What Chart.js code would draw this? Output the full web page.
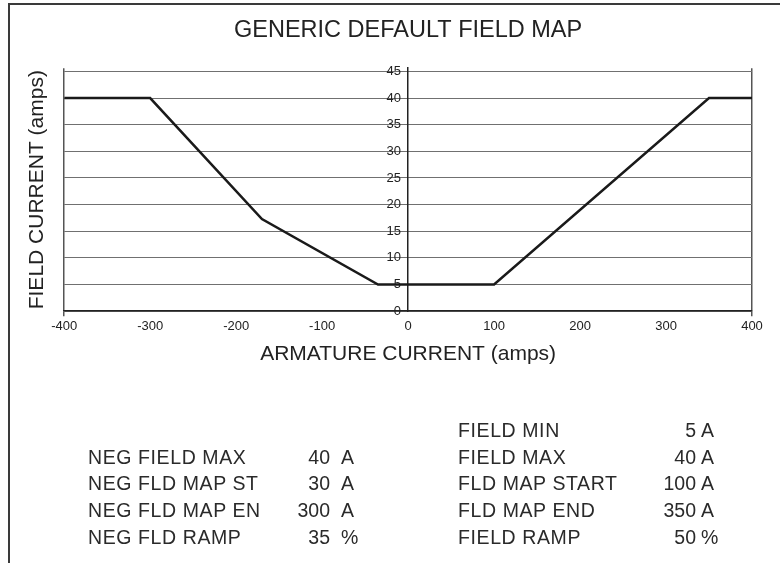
<!DOCTYPE html>
<html>
<head>
<meta charset="utf-8">
<script src="https://cdn.jsdelivr.net/npm/chart.js@4/dist/chart.umd.min.js"></script>
<style>
  html, body { margin: 0; padding: 0; background: #fff; }
  #wrap { position: relative; width: 780px; height: 563px; overflow: hidden; }
  #frame { position: absolute; left: 8px; top: 3px; width: 780px; height: 570px;
           border-top: 2px solid #3a3a3a; border-left: 2px solid #3a3a3a; }
  #chart { position: absolute; left: 0; top: 0; }
  .row { position: absolute; font-family: 'Liberation Sans', Arial, sans-serif;
         font-size: 19.5px; color: #2a2a2a; line-height: 22px; white-space: nowrap; }
  .row span { position: absolute; top: 0; }
  .lbl { letter-spacing: 0.6px; }
  .val { text-align: right; }
</style>
</head>
<body>
<div id="wrap">
  <div id="frame"></div>
  <canvas id="chart" width="780" height="563"></canvas>
  <div id="table"></div>
</div>
<script>
  // curve points (armature amps vs field amps)
  const armatureAmps = [-400, -300, -170, -35, 100, 350, 400];
  const fieldAmps = [40, 40, 17.3, 5, 5, 40, 40];

  // settings list under the chart
  const negLabels = ['NEG FIELD MAX', 'NEG FLD MAP ST', 'NEG FLD MAP EN', 'NEG FLD RAMP'];
  const negValues = ['40', '30', '300', '35'];
  const negUnits = ['A', 'A', 'A', '%'];
  const posLabels = ['FIELD MIN', 'FIELD MAX', 'FLD MAP START', 'FLD MAP END', 'FIELD RAMP'];
  const posValues = ['5', '40', '100', '350', '50'];
  const posUnits = ['A', 'A', 'A', 'A', '%'];

  const fontFamily = "'Liberation Sans', Arial, sans-serif";

  // tabla de parametros
  const table = document.getElementById('table');
  function addRow(top, left, label, value, unit, valRight, unitLeft) {
    const row = document.createElement('div');
    row.className = 'row';
    row.style.top = top + 'px';
    row.style.left = left + 'px';
    row.innerHTML = '<span class="lbl" style="left:0">' + label + '</span>' +
      '<span class="val" style="right:' + (-valRight) + 'px;width:60px">' + value + '</span>' +
      '<span style="left:' + unitLeft + 'px">' + unit + '</span>';
    table.appendChild(row);
  }
  const rowTop = 419, rowStep = 26.7;
  posLabels.forEach((l, i) => addRow(rowTop + i * rowStep, 458, l, posValues[i], posUnits[i], 238, 243));
  negLabels.forEach((l, i) => addRow(rowTop + (i + 1) * rowStep, 88, l, negValues[i], negUnits[i], 242, 253));

  new Chart(document.getElementById('chart'), {
    type: 'line',
    data: {
      datasets: [{
        label: 'Field map',
        data: armatureAmps.map((a, i) => ({ x: a, y: fieldAmps[i] })),
        borderColor: '#1a1a1a',
        borderWidth: 2.5,
        pointRadius: 0,
        tension: 0,
        fill: false
      }]
    },
    options: {
      responsive: false,
      animation: false,
      layout: { padding: { left: 0, right: 28, top: 0, bottom: 196 } },
      plugins: {
        legend: { display: false },
        tooltip: { enabled: false },
        title: {
          display: true,
          text: 'GENERIC DEFAULT FIELD MAP',
          fullSize: false,
          color: '#222',
          font: { family: fontFamily, size: 23.5, weight: 'normal' },
          padding: { top: 16, bottom: 24 }
        }
      },
      scales: {
        x: {
          type: 'linear',
          position: 'bottom',
          min: -400,
          max: 400,
          ticks: { stepSize: 100, color: '#222', padding: 2, font: { family: fontFamily, size: 13 } },
          grid: {
            color: ctx => (Math.abs(ctx.tick.value) === 400 ? '#555' : 'rgba(0,0,0,0)'),
            lineWidth: 1.5,
            tickLength: 5
          },
          border: { display: true, color: '#222', width: 1.5 },
          title: {
            display: true,
            text: 'ARMATURE CURRENT (amps)',
            color: '#222',
            font: { family: fontFamily, size: 21 },
            padding: { top: 6, bottom: 0 }
          }
        },
        y: {
          type: 'linear',
          position: { x: 0 },
          min: 0,
          max: 45.6,
          ticks: {
            stepSize: 5,
            includeBounds: false,
            color: '#222',
            font: { family: fontFamily, size: 13 },
            // labels sit just left of the centre axis
            callback: v => v + '  '
          },
          grid: { color: '#707070', lineWidth: 1, drawTicks: false },
          border: { display: true, color: '#222', width: 1.5 }
        },
        yTitle: {
          type: 'linear',
          position: 'left',
          grid: { display: false, drawTicks: false },
          border: { display: false },
          ticks: { display: false },
          title: {
            display: true,
            text: 'FIELD CURRENT (amps)',
            color: '#222',
            font: { family: fontFamily, size: 21 },
            padding: { top: 25, bottom: 14 }
          }
        }
      }
    }
  });
</script>
</body>
</html>
